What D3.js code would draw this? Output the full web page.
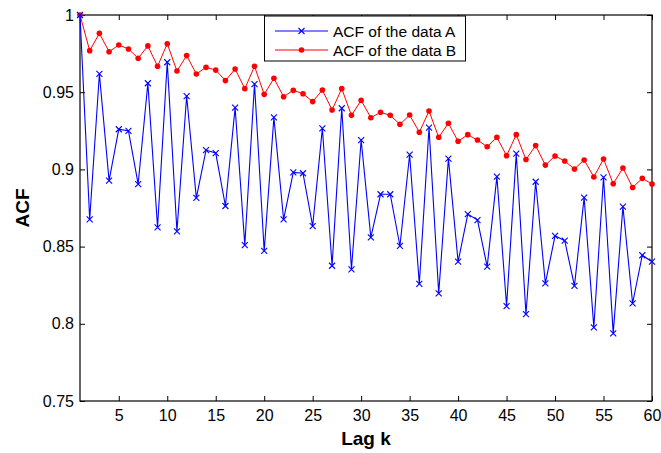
<!DOCTYPE html>
<html>
<head>
<meta charset="utf-8">
<script src="https://cdn.jsdelivr.net/npm/d3@7"></script>
<style>
  body { margin: 0; background: #fff; }
  #chart { width: 661px; height: 453px; }
  text { font-family: "Liberation Sans", Arial, sans-serif; }
</style>
</head>
<body>
<div id="chart"></div>
<script>
// lag values 1..60
const lags = d3.range(1, 61);

// ACF of the data A (blue, x markers)
const acfA = [
  1.0, 0.8677, 0.9618, 0.8927, 0.926, 0.9249, 0.8905, 0.9558, 0.8625, 0.9694,
  0.8599, 0.9475, 0.8815, 0.9125, 0.9106, 0.8763, 0.940, 0.851, 0.9553, 0.8472,
  0.9337, 0.8677, 0.8981, 0.8975, 0.8633, 0.9266, 0.8376, 0.9396, 0.8353, 0.919,
  0.856, 0.8839, 0.8839, 0.8504, 0.9095, 0.8258, 0.927, 0.8197, 0.907, 0.8402,
  0.8711, 0.8672, 0.837, 0.8953, 0.8115, 0.9102, 0.8062, 0.892, 0.8262, 0.857,
  0.8538, 0.8245, 0.8817, 0.7977, 0.8949, 0.7938, 0.8759, 0.8133, 0.8444, 0.8402
];

// ACF of the data B (red, dots)
const acfB = [
  1.0, 0.9769, 0.9881, 0.9762, 0.9806, 0.978, 0.972, 0.980, 0.9668, 0.9814,
  0.9637, 0.9737, 0.9618, 0.9661, 0.9643, 0.9575, 0.965, 0.9523, 0.9668, 0.9486,
  0.959, 0.9471, 0.9512, 0.949, 0.9439, 0.9514, 0.9385, 0.9523, 0.935, 0.9447,
  0.9335, 0.937, 0.935, 0.9292, 0.9352, 0.9241, 0.9378, 0.9208, 0.9299, 0.9182,
  0.9225, 0.919, 0.9147, 0.9208, 0.9089, 0.9225, 0.9064, 0.9154, 0.9028, 0.9087,
  0.9054, 0.9003, 0.9061, 0.8951, 0.9067, 0.8907, 0.9009, 0.8883, 0.8942, 0.8905
];

const xTicks = [5, 10, 15, 20, 25, 30, 35, 40, 45, 50, 55, 60];
const yTicks = [0.75, 0.8, 0.85, 0.9, 0.95, 1];
const legendLabels = ["ACF of the data A", "ACF of the data B"];

const width = 661, height = 453;
const margin = { left: 80, right: 9, top: 15, bottom: 52 };

const svg = d3.select("#chart").append("svg")
  .attr("width", width)
  .attr("height", height);

const x = d3.scaleLinear().domain([1, 60]).range([margin.left, width - margin.right]);
const y = d3.scaleLinear().domain([0.75, 1]).range([height - margin.bottom, margin.top]);

const fmt = d => String(+d.toFixed(2));

// axes, MATLAB style: ticks pointing inward, box all round
const axB = svg.append("g")
  .attr("transform", `translate(0,${y(0.75)})`)
  .call(d3.axisBottom(x).tickValues(xTicks).tickSizeInner(-5).tickSizeOuter(0).tickPadding(9));
const axT = svg.append("g")
  .attr("transform", `translate(0,${y(1)})`)
  .call(d3.axisTop(x).tickValues(xTicks).tickSizeInner(-5).tickSizeOuter(0).tickFormat(""));
const axL = svg.append("g")
  .attr("transform", `translate(${x(1)},0)`)
  .call(d3.axisLeft(y).tickValues(yTicks).tickSizeInner(-5).tickSizeOuter(0).tickPadding(6).tickFormat(fmt));
const axR = svg.append("g")
  .attr("transform", `translate(${x(60)},0)`)
  .call(d3.axisRight(y).tickValues(yTicks).tickSizeInner(-5).tickSizeOuter(0).tickFormat(""));

[axB, axT, axL, axR].forEach(g => {
  g.select(".domain").remove();
  g.selectAll(".tick line").attr("stroke", "#000");
  g.selectAll(".tick text")
    .attr("font-family", "Liberation Sans, Arial, sans-serif")
    .attr("font-size", 16)
    .attr("fill", "#000");
});

svg.append("rect")
  .attr("x", x(1))
  .attr("y", y(1))
  .attr("width", x(60) - x(1))
  .attr("height", y(0.75) - y(1))
  .attr("fill", "none")
  .attr("stroke", "#000")
  .attr("stroke-width", 1.2);

// series
const line = d3.line().x((d, i) => x(lags[i])).y(d => y(d));

svg.append("path")
  .datum(acfB)
  .attr("d", line)
  .attr("fill", "none")
  .attr("stroke", "#ff0000")
  .attr("stroke-width", 1);

svg.append("g").selectAll("circle")
  .data(acfB)
  .join("circle")
  .attr("cx", (d, i) => x(lags[i]))
  .attr("cy", d => y(d))
  .attr("r", 2.8)
  .attr("fill", "#ff0000");

svg.append("path")
  .datum(acfA)
  .attr("d", line)
  .attr("fill", "none")
  .attr("stroke", "#0000ff")
  .attr("stroke-width", 1.1);

const cross = (cx, cy, s) => `M${cx - s},${cy - s}L${cx + s},${cy + s}M${cx - s},${cy + s}L${cx + s},${cy - s}`;

svg.append("g").selectAll("path")
  .data(acfA)
  .join("path")
  .attr("d", (d, i) => cross(x(lags[i]), y(d), 3))
  .attr("stroke", "#0000ff")
  .attr("stroke-width", 1.1)
  .attr("fill", "none");

// axis labels
svg.append("text")
  .attr("transform", `translate(29,${(y(1) + y(0.75)) / 2}) rotate(-90)`)
  .attr("text-anchor", "middle")
  .attr("font-size", 19)
  .attr("font-weight", "bold")
  .text("ACF");

svg.append("text")
  .attr("x", (x(1) + x(60)) / 2)
  .attr("y", 445)
  .attr("text-anchor", "middle")
  .attr("font-size", 19)
  .attr("font-weight", "bold")
  .text("Lag k");

// legend
const legend = svg.append("g");
legend.append("rect")
  .attr("x", 264.5)
  .attr("y", 16)
  .attr("width", 201)
  .attr("height", 45)
  .attr("fill", "#fff")
  .attr("stroke", "#000")
  .attr("stroke-width", 1);

const rowY = [31, 50];
const colors = ["#0000ff", "#ff0000"];
legendLabels.forEach((label, i) => {
  legend.append("line")
    .attr("x1", 275).attr("x2", 328)
    .attr("y1", rowY[i]).attr("y2", rowY[i])
    .attr("stroke", colors[i]).attr("stroke-width", 1);
  if (i === 0) {
    legend.append("path")
      .attr("d", cross(301.5, rowY[i], 3))
      .attr("stroke", colors[i]).attr("stroke-width", 1.1);
  } else {
    legend.append("circle")
      .attr("cx", 301.5).attr("cy", rowY[i]).attr("r", 2.8)
      .attr("fill", colors[i]);
  }
  legend.append("text")
    .attr("x", 333)
    .attr("y", rowY[i] + 5.5)
    .attr("font-size", 15.5)
    .attr("fill", "#000")
    .text(label);
});
</script>
</body>
</html>
